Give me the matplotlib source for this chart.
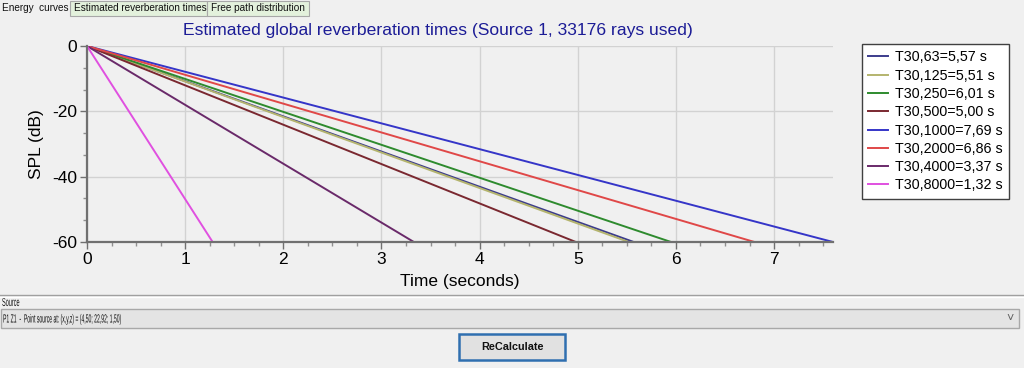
import matplotlib.pyplot as plt
from matplotlib.font_manager import FontProperties
from matplotlib.patches import PathPatch, Rectangle
from matplotlib.textpath import TextPath
from matplotlib.ticker import AutoMinorLocator
from matplotlib.transforms import Affine2D, IdentityTransform

# Octave bands and the time (s) at which each energy curve reaches -60 dB
bands = ["63", "125", "250", "500", "1000", "2000", "4000", "8000"]
t30_values = ["5,57", "5,51", "6,01", "5,00", "7,69", "6,86", "3,37", "1,32"]
end_times = [5.57, 5.52, 5.95, 4.98, 7.6, 6.8, 3.33, 1.28]
start_level = 0.0
end_level = -60.0
colors = ["#3c3c8c", "#b4b46e", "#2e8b2e", "#7a2830",
          "#3535c8", "#e04848", "#6a2a6a", "#e050e0"]

BG = "#f0f0f0"
W, H = 1024, 368


def fx(px):
    return px / W


def fy(py):
    return 1 - py / H


def narrow_text(fig, px, py_base, s, size, xscale, color="#111111"):
    # condensed GUI font: draw the glyph outlines squeezed horizontally
    path = TextPath((0, 0), s, size=size, prop=FontProperties(family="Liberation Sans"))
    k = 100 / 72
    path = Affine2D().scale(k * xscale, k).translate(px, H - py_base).transform_path(path)
    fig.patches.append(PathPatch(path, transform=IdentityTransform(),
                                 facecolor=color, edgecolor="none"))


def main() -> None:
    plt.rcParams["font.family"] = ["Liberation Sans", "DejaVu Sans"]
    plt.rcParams["axes.unicode_minus"] = False
    fig = plt.figure(figsize=(W / 100, H / 100), dpi=100, facecolor=BG)

    # tab strip
    fig.text(fx(2), fy(8), "Energy  curves", fontsize=7.2, va="center", color="#111111")
    for x0, x1, label in [(70, 207, "Estimated reverberation times"),
                          (207, 309, "Free path distribution")]:
        fig.patches.append(Rectangle((fx(x0), fy(16)), fx(x1 - x0), 15 / H,
                                     transform=fig.transFigure, facecolor="#e3f1dc",
                                     edgecolor="#a8a8a8", linewidth=0.8))
        fig.text(fx(x0 + 4), fy(8), label, fontsize=7.2, va="center", color="#111111")

    ax = fig.add_axes([fx(87), fy(242), fx(833 - 87), (242 - 46) / H])
    ax.set_facecolor(BG)
    for band, t30, tend, c in zip(bands, t30_values, end_times, colors):
        ax.plot([0, tend], [start_level, end_level], color=c, linewidth=1.4,
                label=f"T30,{band}={t30} s")

    ax.set_xlim(0, 7.6)
    ax.set_ylim(-60, 0)
    ax.set_xticks(range(0, 8))
    ax.set_yticks([0, -20, -40, -60])
    ax.xaxis.set_minor_locator(AutoMinorLocator(4))
    ax.yaxis.set_minor_locator(AutoMinorLocator(3))
    ax.grid(True, which="major", color="#d2d2d2", linewidth=1.0)
    ax.set_axisbelow(True)
    for s in ["top", "right"]:
        ax.spines[s].set_visible(False)
    for s in ["left", "bottom"]:
        ax.spines[s].set_color("#707070")
        ax.spines[s].set_linewidth(1.6)
    ax.tick_params(which="major", length=5, width=1, color="#707070",
                   labelsize=12.5, pad=2)
    ax.tick_params(which="minor", length=3, width=1, color="#909090")
    ax.set_xlabel("Time (seconds)", fontsize=12.5, labelpad=5)
    ax.set_ylabel("SPL (dB)", fontsize=12.5, labelpad=6)

    fig.text(fx(438), fy(31), "Estimated global reverberation times (Source 1, 33176 rays used)",
             ha="center", va="center", fontsize=12.6, color="#1c1c96")

    leg = ax.legend(loc="upper left", bbox_to_anchor=(fx(862), fy(44)),
                    bbox_transform=fig.transFigure, fontsize=10.3, frameon=True,
                    fancybox=False, handlelength=1.4, handletextpad=0.45,
                    labelspacing=0.3, borderpad=0.45, borderaxespad=0)
    leg.get_frame().set_edgecolor("#404040")
    leg.get_frame().set_linewidth(1.0)
    leg.get_frame().set_facecolor("white")
    leg.get_frame().set_alpha(1)

    # source panel
    fig.lines.append(plt.Line2D([0, 1], [fy(295), fy(295)], transform=fig.transFigure,
                                color="#a0a0a0", linewidth=1.0))
    fig.lines.append(plt.Line2D([0, 1], [fy(297), fy(297)], transform=fig.transFigure,
                                color="#ffffff", linewidth=1.0))
    narrow_text(fig, 2, 306, "Source", 8.5, 0.47)
    fig.patches.append(Rectangle((fx(1), fy(328)), fx(1018), 19 / H,
                                 transform=fig.transFigure, facecolor="#e4e4e4",
                                 edgecolor="#a8a8a8", linewidth=1.0))
    narrow_text(fig, 3, 322.5, "P1 Z1  -  Point source at: (x,y,z) = (4,50; 22,92; 1,50)", 8.5, 0.43)
    fig.text(fx(1010), fy(318.5), "\u02c5", fontsize=9, va="center", ha="center",
             color="#606060")

    fig.patches.append(Rectangle((fx(459), fy(360)), fx(106), 26 / H,
                                 transform=fig.transFigure, facecolor="#e1e1e1",
                                 edgecolor="#2f6fb0", linewidth=1.8))
    fig.text(fx(512), fy(347), "ReCalculate", fontsize=7.8, fontweight="bold",
             ha="center", va="center", color="#111111")

    fig.savefig("out.png", dpi=100, facecolor=BG)
    plt.close(fig)


if __name__ == "__main__":
    main()
